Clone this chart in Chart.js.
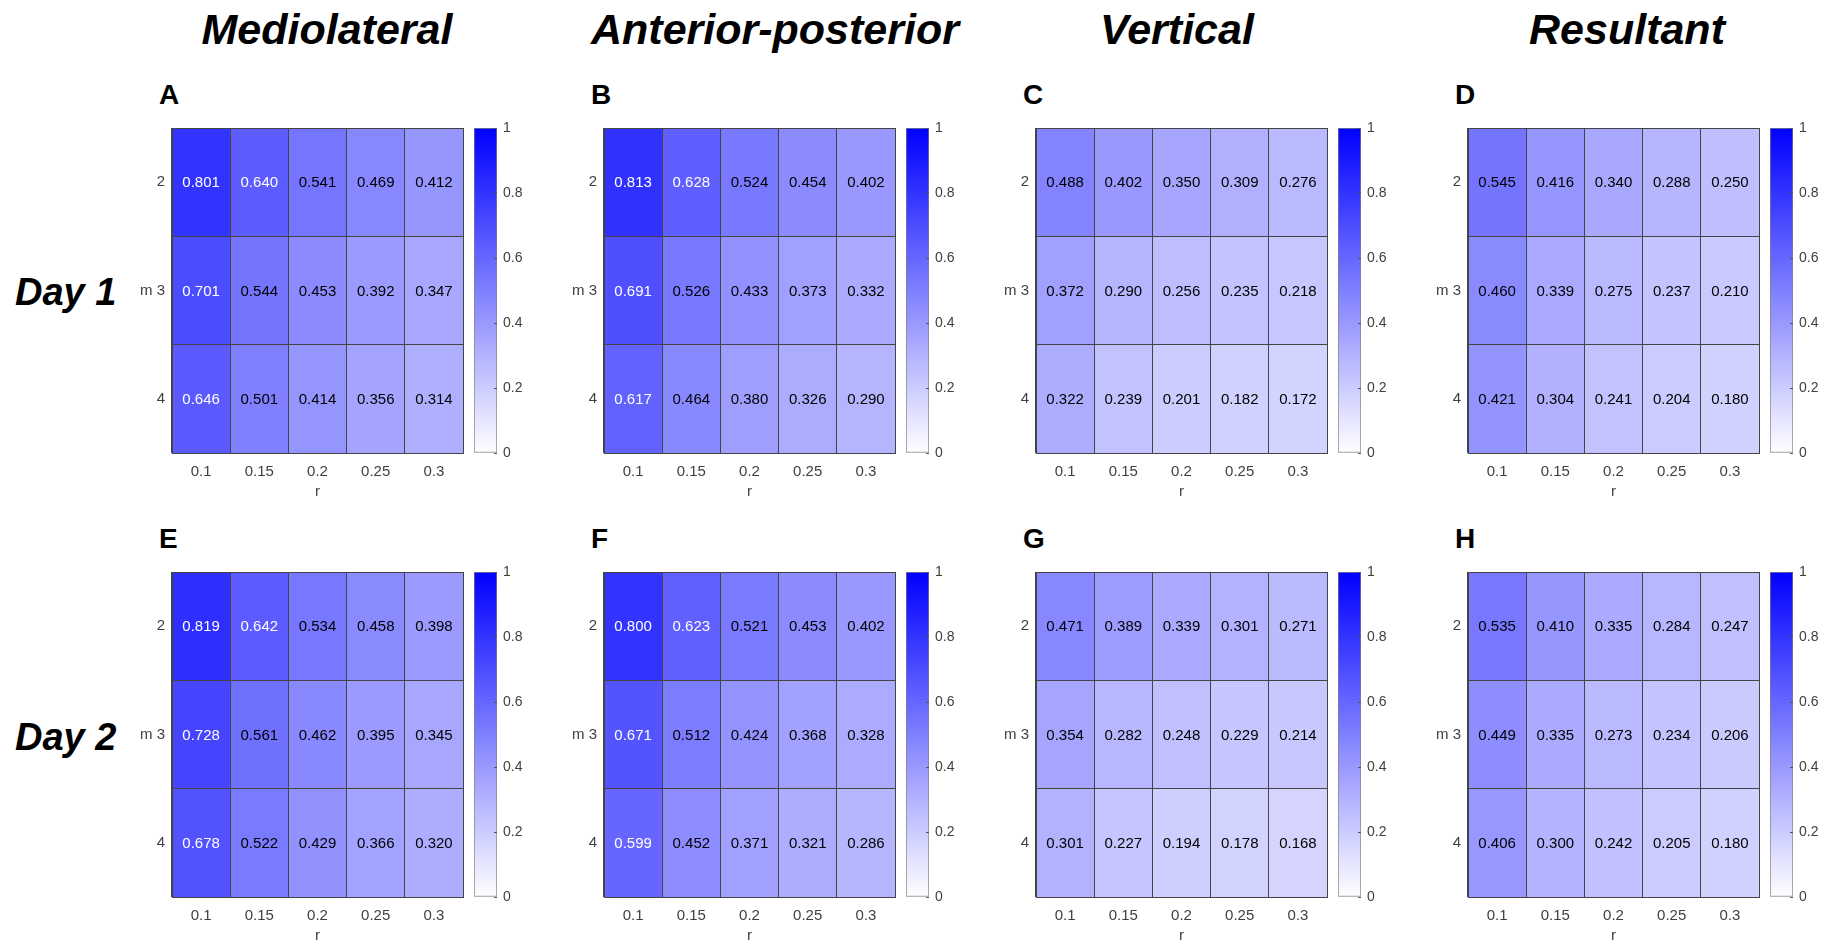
<!DOCTYPE html>
<html>
<head>
<meta charset="utf-8">
<script src="https://cdn.jsdelivr.net/npm/chart.js@4.4.1/dist/chart.umd.min.js"></script>
<style>
  body { margin: 0; background: #fff; width: 1827px; height: 945px; position: relative; overflow: hidden;
         font-family: "Liberation Sans", Arial, sans-serif; }
  .lbl { position: absolute; line-height: 1; white-space: nowrap; color: #000; font-weight: bold; }
  .title { font-size: 43px; font-style: italic; transform: translateX(-50%); }
  .letter { font-size: 28px; }
  .day { font-size: 38px; font-style: italic; }
  canvas { position: absolute; }
</style>
</head>
<body>
<script>
const rLabels = ['0.1', '0.15', '0.2', '0.25', '0.3'];
const mValues = [2, 3, 4];
const colorbarTicks = [0, 0.2, 0.4, 0.6, 0.8, 1];
const directions = ['Mediolateral', 'Anterior-posterior', 'Vertical', 'Resultant'];
const days = ['Day 1', 'Day 2'];
const panelLetters = ['A', 'B', 'C', 'D', 'E', 'F', 'G', 'H'];

// rows are m = 2, 3, 4 ; columns r = 0.1 .. 0.3
const day1Mediolateral = [
  [0.801, 0.640, 0.541, 0.469, 0.412],
  [0.701, 0.544, 0.453, 0.392, 0.347],
  [0.646, 0.501, 0.414, 0.356, 0.314]
];
const day1AnteriorPosterior = [
  [0.813, 0.628, 0.524, 0.454, 0.402],
  [0.691, 0.526, 0.433, 0.373, 0.332],
  [0.617, 0.464, 0.380, 0.326, 0.290]
];
const day1Vertical = [
  [0.488, 0.402, 0.350, 0.309, 0.276],
  [0.372, 0.290, 0.256, 0.235, 0.218],
  [0.322, 0.239, 0.201, 0.182, 0.172]
];
const day1Resultant = [
  [0.545, 0.416, 0.340, 0.288, 0.250],
  [0.460, 0.339, 0.275, 0.237, 0.210],
  [0.421, 0.304, 0.241, 0.204, 0.180]
];
const day2Mediolateral = [
  [0.819, 0.642, 0.534, 0.458, 0.398],
  [0.728, 0.561, 0.462, 0.395, 0.345],
  [0.678, 0.522, 0.429, 0.366, 0.320]
];
const day2AnteriorPosterior = [
  [0.800, 0.623, 0.521, 0.453, 0.402],
  [0.671, 0.512, 0.424, 0.368, 0.328],
  [0.599, 0.452, 0.371, 0.321, 0.286]
];
const day2Vertical = [
  [0.471, 0.389, 0.339, 0.301, 0.271],
  [0.354, 0.282, 0.248, 0.229, 0.214],
  [0.301, 0.227, 0.194, 0.178, 0.168]
];
const day2Resultant = [
  [0.535, 0.410, 0.335, 0.284, 0.247],
  [0.449, 0.335, 0.273, 0.234, 0.206],
  [0.406, 0.300, 0.242, 0.205, 0.180]
];

const panelData = [
  day1Mediolateral, day1AnteriorPosterior, day1Vertical, day1Resultant,
  day2Mediolateral, day2AnteriorPosterior, day2Vertical, day2Resultant
];

// layout (px)
const colLeft = [172, 604, 1036, 1468];
const rowTop = [128, 572];
const heatW = 291, heatH = 325;
const PAD = 22;
const titleX = [327, 775, 1177, 1627];
const FONT = '"Liberation Sans", Arial, sans-serif';
const tickColor = '#404040';
const lineColor = '#444444';

function addLabel(text, cls, left, top) {
  const d = document.createElement('div');
  d.className = 'lbl ' + cls;
  d.textContent = text;
  d.style.left = left + 'px';
  d.style.top = top + 'px';
  document.body.appendChild(d);
}

function cellColor(v) {
  const c = Math.round(255 * (1 - v));
  return `rgb(${c},${c},255)`;
}

const cellText = {
  id: 'cellText',
  afterDatasetsDraw(chart) {
    const ctx = chart.ctx;
    ctx.save();
    ctx.font = '15px ' + FONT;
    ctx.textAlign = 'center';
    ctx.textBaseline = 'middle';
    chart.data.datasets.forEach((ds, i) => {
      chart.getDatasetMeta(i).data.forEach((bar, j) => {
        const v = ds.values[j];
        ctx.fillStyle = v > 0.59 ? '#ffffff' : '#000000';
        ctx.fillText(v.toFixed(3), bar.x, (bar.y + bar.base) / 2 + 1);
      });
    });
    ctx.restore();
  }
};

function makeCanvas(left, top, w, h) {
  const c = document.createElement('canvas');
  c.width = w; c.height = h;
  c.style.left = left + 'px';
  c.style.top = top + 'px';
  c.style.width = w + 'px';
  c.style.height = h + 'px';
  document.body.appendChild(c);
  return c;
}

function drawHeatmap(rows, left, top) {
  const canvas = makeCanvas(left - 50, top - PAD, 50 + heatW + 4, PAD + heatH + 52);
  new Chart(canvas, {
    type: 'bar',
    data: {
      labels: rLabels,
      datasets: mValues.map((m, i) => ({
        data: rLabels.map(() => [m - 0.5, m + 0.5]),
        values: rows[i],
        backgroundColor: rows[i].map(cellColor),
        borderWidth: 0,
        grouped: false,
        categoryPercentage: 1,
        barPercentage: 1
      }))
    },
    options: {
      responsive: false,
      animation: false,
      layout: { padding: { top: PAD, right: 4, bottom: 0, left: 0 } },
      plugins: { legend: { display: false }, tooltip: { enabled: false } },
      scales: {
        x: {
          offset: true,
          grid: { offset: true, color: lineColor, drawTicks: false, z: 1 },
          border: { color: lineColor, z: 1 },
          ticks: { color: tickColor, font: { family: FONT, size: 15 }, padding: 10 },
          title: { display: true, text: 'r', color: tickColor, font: { family: FONT, size: 15 },
                   padding: { top: 0, bottom: 4 } },
          afterFit: s => { s.height = 52; }
        },
        y: {
          type: 'linear',
          min: mValues[0] - 0.5,
          max: mValues[mValues.length - 1] + 0.5,
          reverse: true,
          afterBuildTicks: s => {
            const t = [];
            mValues.forEach(m => { t.push({ value: m - 0.5 }); t.push({ value: m }); });
            t.push({ value: mValues[mValues.length - 1] + 0.5 });
            s.ticks = t;
          },
          grid: {
            drawTicks: false,
            z: 1,
            color: c => Number.isInteger(c.tick.value) ? 'rgba(0,0,0,0)' : lineColor
          },
          border: { color: lineColor, z: 1 },
          ticks: {
            color: tickColor, font: { family: FONT, size: 15 }, padding: 7,
            callback: v => Number.isInteger(v) ? (v === 3 ? 'm 3' : String(v)) : ''
          },
          afterFit: s => { s.width = 50; }
        }
      }
    },
    plugins: [cellText]
  });
}

function drawColorbar(left, top) {
  const canvas = makeCanvas(left, top - PAD, 23 + 40, heatH + 2 * PAD);
  new Chart(canvas, {
    type: 'bar',
    data: {
      labels: [''],
      datasets: [{
        data: [[colorbarTicks[0], colorbarTicks[colorbarTicks.length - 1]]],
        backgroundColor: ctx => {
          const a = ctx.chart.chartArea;
          if (!a) return '#8080ff';
          const g = ctx.chart.ctx.createLinearGradient(0, a.bottom, 0, a.top);
          g.addColorStop(0, '#ffffff');
          g.addColorStop(1, '#0000ff');
          return g;
        },
        borderColor: '#808080',
        borderWidth: 1,
        borderSkipped: false,
        categoryPercentage: 1,
        barPercentage: 1
      }]
    },
    options: {
      responsive: false,
      animation: false,
      layout: { padding: { top: PAD, right: 0, bottom: PAD, left: 0 } },
      plugins: { legend: { display: false }, tooltip: { enabled: false } },
      scales: {
        x: { display: false },
        y: {
          position: 'right',
          min: 0,
          max: 1,
          afterBuildTicks: s => { s.ticks = colorbarTicks.map(v => ({ value: v })); },
          grid: { drawOnChartArea: false, tickLength: -3, color: '#555555', z: 1 },
          border: { display: false },
          ticks: { color: tickColor, font: { family: FONT, size: 14 }, padding: 9,
                   callback: v => String(v) },
          afterFit: s => { s.width = 40; }
        }
      }
    }
  });
}

directions.forEach((d, i) => addLabel(d, 'title', titleX[i], 44 - 43 * 0.8465));
days.forEach((d, i) => addLabel(d, 'day', 15, [305, 750][i] - 38 * 0.8465));

panelData.forEach((rows, p) => {
  const col = p % 4, row = Math.floor(p / 4);
  const left = colLeft[col], top = rowTop[row];
  addLabel(panelLetters[p], 'letter', left - 13, top - 23 - 28 * 0.8465);
  drawHeatmap(rows, left, top);
  drawColorbar(left + 302, top);
});
</script>
</body>
</html>
